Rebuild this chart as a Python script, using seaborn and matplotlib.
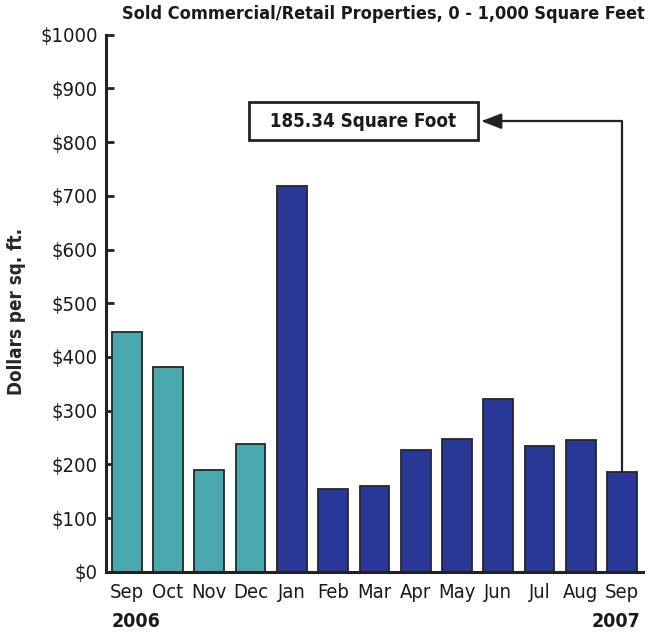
import pandas as pd
import seaborn as sns
import matplotlib.pyplot as plt
from matplotlib.ticker import FuncFormatter

# data
months = ["Sep", "Oct", "Nov", "Dec", "Jan", "Feb", "Mar", "Apr", "May", "Jun", "Jul", "Aug", "Sep"]
years = [2006, 2006, 2006, 2006, 2007, 2007, 2007, 2007, 2007, 2007, 2007, 2007, 2007]
price_per_sqft = [446, 382, 189, 238, 718, 155, 160, 227, 248, 322, 235, 245, 185.34]
y_ticks = [0, 100, 200, 300, 400, 500, 600, 700, 800, 900, 1000]

df = pd.DataFrame({
    "period": [f"{m} {y}" for m, y in zip(months, years)],
    "year": years,
    "price": price_per_sqft,
})

sns.set_style("white")
plt.rcParams['font.family'] = ['Liberation Sans Narrow', 'DejaVu Sans']
plt.rcParams['font.stretch'] = 'condensed'
plt.rcParams['text.color'] = '#1a1a1a'
plt.rcParams['xtick.color'] = '#1a1a1a'
plt.rcParams['ytick.color'] = '#1a1a1a'

fig = plt.figure(figsize=(6.48, 6.36), dpi=100)
ax = fig.add_axes([0.1636, 0.101, 0.8284, 0.8444])

sns.barplot(data=df,
            x="period",
            y="price",
            hue="year",
            palette=["#4AA9AF", "#293797"],
            saturation=1,
            dodge=False,
            width=0.72,
            edgecolor="#262626",
            linewidth=1.3,
            legend=False,
            ax=ax)

ax.set_xlim(-0.5, 12.5)
ax.set_ylim(0, 1000)
ax.set_yticks(y_ticks)
ax.yaxis.set_major_formatter(FuncFormatter(lambda v, p: f"${v:.0f}"))
ax.set_xticks(range(len(months)))
ax.set_xticklabels(months)

ax.tick_params(axis="y", direction="in", length=6, width=2, color="#222222",
               labelsize=14.5, pad=6, left=True)
ax.tick_params(axis="x", length=0, labelsize=14.5, pad=8)

for s in ["top", "right"]:
    ax.spines[s].set_visible(False)
for s in ["left", "bottom"]:
    ax.spines[s].set_linewidth(2.2)
    ax.spines[s].set_color("#222222")

ax.set_xlabel("")
ax.set_ylabel("Dollars per sq. ft.", fontsize=13.5, fontweight="bold")
ax.yaxis.set_label_coords(-0.149, 0.484)

fig.text(0.592, 0.978, "Sold Commercial/Retail Properties, 0 - 1,000 Square Feet",
         ha="center", va="center", fontsize=13, fontweight="bold")

# year labels under the month ticks
fig.text(0.172, 0.023, "2006", ha="left", va="center", fontsize=14, fontweight="bold")
fig.text(0.988, 0.023, "2007", ha="right", va="center", fontsize=14, fontweight="bold")

# callout for the latest month
ax.annotate(f"  {price_per_sqft[-1]:.2f} Square Foot  ",
            xy=(12, price_per_sqft[-1]),
            xytext=(5.73, 839),
            ha="center", va="center",
            fontsize=13.5, fontweight="bold",
            bbox=dict(boxstyle="square,pad=0.5", fc="white", ec="#222222", lw=2),
            arrowprops=dict(arrowstyle="<|-,head_length=0.9,head_width=0.35",
                            connectionstyle="angle,angleA=0,angleB=90,rad=0",
                            color="#222222", lw=1.6, shrinkA=2, shrinkB=0))

plt.savefig("out.png", dpi=100)
